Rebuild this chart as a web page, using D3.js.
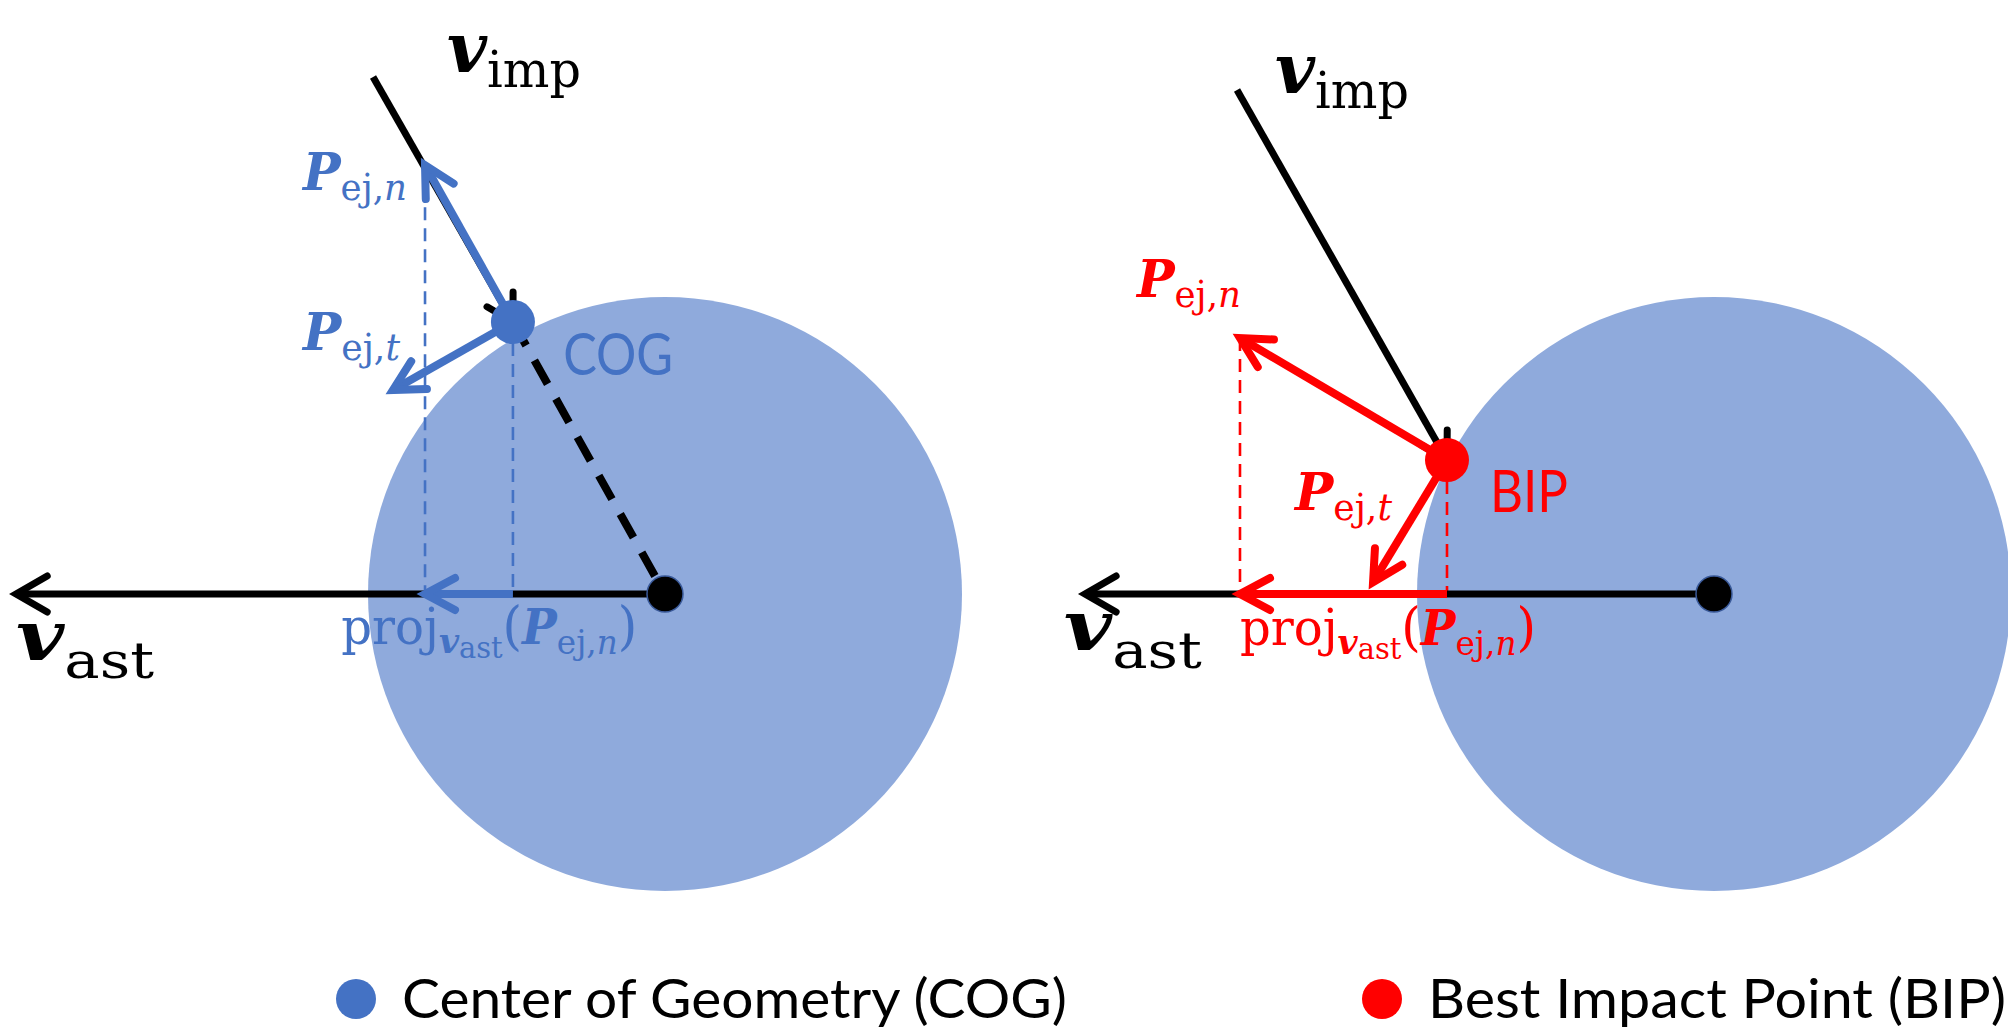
<!DOCTYPE html>
<html><head><meta charset="utf-8">
<script src="https://cdn.jsdelivr.net/npm/d3@7/dist/d3.min.js"></script>
<style>body{margin:0;background:#fff;overflow:hidden} svg{display:block}</style>
</head><body>
<svg id="c" width="2008" height="1036"></svg>
<script>
// ---------- DATA (asteroid-radius units, origin = asteroid centre, y up) ----------
const panels = ["COG", "BIP"];
const legendLabels = ["Center of Geometry (COG)", "Best Impact Point (BIP)"];
const asteroidRadius = [1, 1];
const impactPoint = [[-0.512, 0.916], [-0.899, 0.451]];
const impactorTail = [[-0.983, 1.741], [-1.606, 1.697]];
const ejectaNormalTip = [[-0.808, 1.444], [-1.596, 0.862]];
const ejectaTangentTip = [[-0.916, 0.687], [-1.148, 0.040]];
const asteroidVelocityTip = [-2.185, -2.118];
const showCentreLine = [true, false];

// ---------- LAYOUT / STYLE ----------
const panelCentreX = [665, 1714], panelCentreY = 594, unitPx = 297;
const accent = ["#4472C4", "#FF0000"];
const bodyFill = "#8FAADC";
const serif = "'DejaVu Serif', 'Liberation Serif', serif";
const sans = "Lato, 'Open Sans', sans-serif";

const svg = d3.select("#c");

// label anchors (start x, baseline y) in data units
const lblVImp = [[-0.734, 1.758], [-1.478, 1.687]];
const lblPn = [[-1.219, 1.360], [-1.943, 1.000]];
const lblPt = [[-1.219, 0.822], [-1.411, 0.283]];
const lblName = [[-0.343, 0.737], [-0.754, 0.276]];
const lblProj = [[-1.090, -0.168], [-1.596, -0.172]];
const lblVAst = [[-2.185, -0.222], [-2.189, -0.190]];

function arrow(g, x, y, p0, p1, color, width, head = 34, ang = 28) {
  const X0 = x(p0[0]), Y0 = y(p0[1]), X1 = x(p1[0]), Y1 = y(p1[1]);
  const a = Math.atan2(Y1 - Y0, X1 - X0);
  const r = ang * Math.PI / 180;
  g.append("line").attr("x1", X0).attr("y1", Y0)
    .attr("x2", X1 - Math.cos(a) * 2).attr("y2", Y1 - Math.sin(a) * 2)
    .attr("stroke", color).attr("stroke-width", width);
  const h1 = [X1 - head * Math.cos(a - r), Y1 - head * Math.sin(a - r)];
  const h2 = [X1 - head * Math.cos(a + r), Y1 - head * Math.sin(a + r)];
  g.append("path").attr("d", `M${h1}L${X1},${Y1}L${h2}`)
    .attr("fill", "none").attr("stroke", color).attr("stroke-width", width)
    .attr("stroke-linejoin", "miter").attr("stroke-linecap", "round");
}

function mathText(g, px, py, parts, width, color) {
  const t = g.append("text").attr("x", px).attr("y", py)
    .attr("fill", color).attr("font-family", serif)
    .attr("textLength", width).attr("lengthAdjust", "spacingAndGlyphs");
  parts.forEach(p => {
    t.append("tspan").text(p.t)
      .attr("font-size", p.s)
      .attr("font-weight", p.b ? "bold" : "normal")
      .attr("font-style", p.i ? "italic" : "normal")
      .attr("dy", p.dy || 0);
  });
  return t;
}

const vImpParts = [{t: "v", s: 70, b: 1, i: 1}, {t: "imp", s: 50, dy: 15}];
const vAstParts = [{t: "v", s: 70, b: 1, i: 1}, {t: "ast", s: 50, dy: 18}];
const pnParts = [{t: "P", s: 52, b: 1, i: 1}, {t: "ej,", s: 37, dy: 10}, {t: "n", s: 37, i: 1}];
const ptParts = [{t: "P", s: 52, b: 1, i: 1}, {t: "ej,", s: 37, dy: 10}, {t: "t", s: 37, i: 1}];
const projParts = [
  {t: "proj", s: 50}, {t: "v", s: 36, b: 1, i: 1, dy: 9}, {t: "ast", s: 30, dy: 5},
  {t: "(", s: 52, dy: -14}, {t: "P", s: 48, b: 1, i: 1}, {t: "ej,", s: 34, dy: 10},
  {t: "n", s: 34, i: 1}, {t: ")", s: 52, dy: -10}
];

panels.forEach((name, k) => {
  const x = d3.scaleLinear().domain([-1, 1]).range([panelCentreX[k] - unitPx, panelCentreX[k] + unitPx]);
  const y = d3.scaleLinear().domain([-1, 1]).range([panelCentreY + unitPx, panelCentreY - unitPx]);
  const g = svg.append("g");
  const c = accent[k];

  g.append("circle").attr("cx", x(0)).attr("cy", y(0))
    .attr("r", x(asteroidRadius[k]) - x(0)).attr("fill", bodyFill);

  [ejectaNormalTip[k], impactPoint[k]].forEach(p => {
    g.append("line").attr("x1", x(p[0])).attr("y1", y(p[1]))
      .attr("x2", x(p[0])).attr("y2", y(0))
      .attr("stroke", c).attr("stroke-width", 2.6).attr("stroke-dasharray", "13,8");
  });

  if (showCentreLine[k]) {
    g.append("line").attr("x1", x(impactPoint[k][0])).attr("y1", y(impactPoint[k][1]))
      .attr("x2", x(0)).attr("y2", y(0))
      .attr("stroke", "#000").attr("stroke-width", 8).attr("stroke-dasharray", "27,17");
  }

  arrow(g, x, y, [0, 0], [asteroidVelocityTip[k], 0], "#000", 7, 36, 30);
  arrow(g, x, y, impactorTail[k], impactPoint[k], "#000", 7, 30, 30);
  arrow(g, x, y, [impactPoint[k][0], 0], [ejectaNormalTip[k][0], 0], c, 8, 34, 28);
  arrow(g, x, y, impactPoint[k], ejectaNormalTip[k], c, 8, 34, 28);
  arrow(g, x, y, impactPoint[k], ejectaTangentTip[k], c, 8, 34, 28);

  g.append("circle").attr("cx", x(impactPoint[k][0])).attr("cy", y(impactPoint[k][1]))
    .attr("r", 22).attr("fill", c);
  g.append("circle").attr("cx", x(0)).attr("cy", y(0)).attr("r", 18)
    .attr("fill", "#000").attr("stroke", "#3a5a9a").attr("stroke-width", 1.5);

  mathText(g, x(lblVImp[k][0]), y(lblVImp[k][1]), vImpParts, 134, "#000");
  mathText(g, x(lblVAst[k][0]), y(lblVAst[k][1]), vAstParts, 138, "#000");
  mathText(g, x(lblPn[k][0]), y(lblPn[k][1]), pnParts, 104, c);
  mathText(g, x(lblPt[k][0]), y(lblPt[k][1]), ptParts, 97, c);
  mathText(g, x(lblProj[k][0]), y(lblProj[k][1]), projParts, 296, c);
  g.append("text").attr("x", x(lblName[k][0])).attr("y", y(lblName[k][1]))
    .attr("font-family", sans).attr("font-size", 58).attr("fill", c)
    .attr("textLength", k === 0 ? 110 : 78).attr("lengthAdjust", "spacingAndGlyphs")
    .text(name);
});

// legend
const legendX = [356, 1382], legendTextX = [402, 1428], legendW = [665, 578], legendY = 999;
const lg = svg.append("g");
legendLabels.forEach((lab, k) => {
  lg.append("circle").attr("cx", legendX[k]).attr("cy", legendY).attr("r", 20).attr("fill", accent[k]);
  lg.append("text").attr("x", legendTextX[k]).attr("y", legendY + 19)
    .attr("font-family", sans).attr("font-size", 54).attr("fill", "#000")
    .attr("textLength", legendW[k]).attr("lengthAdjust", "spacingAndGlyphs")
    .text(lab);
});
</script>
</body></html>
